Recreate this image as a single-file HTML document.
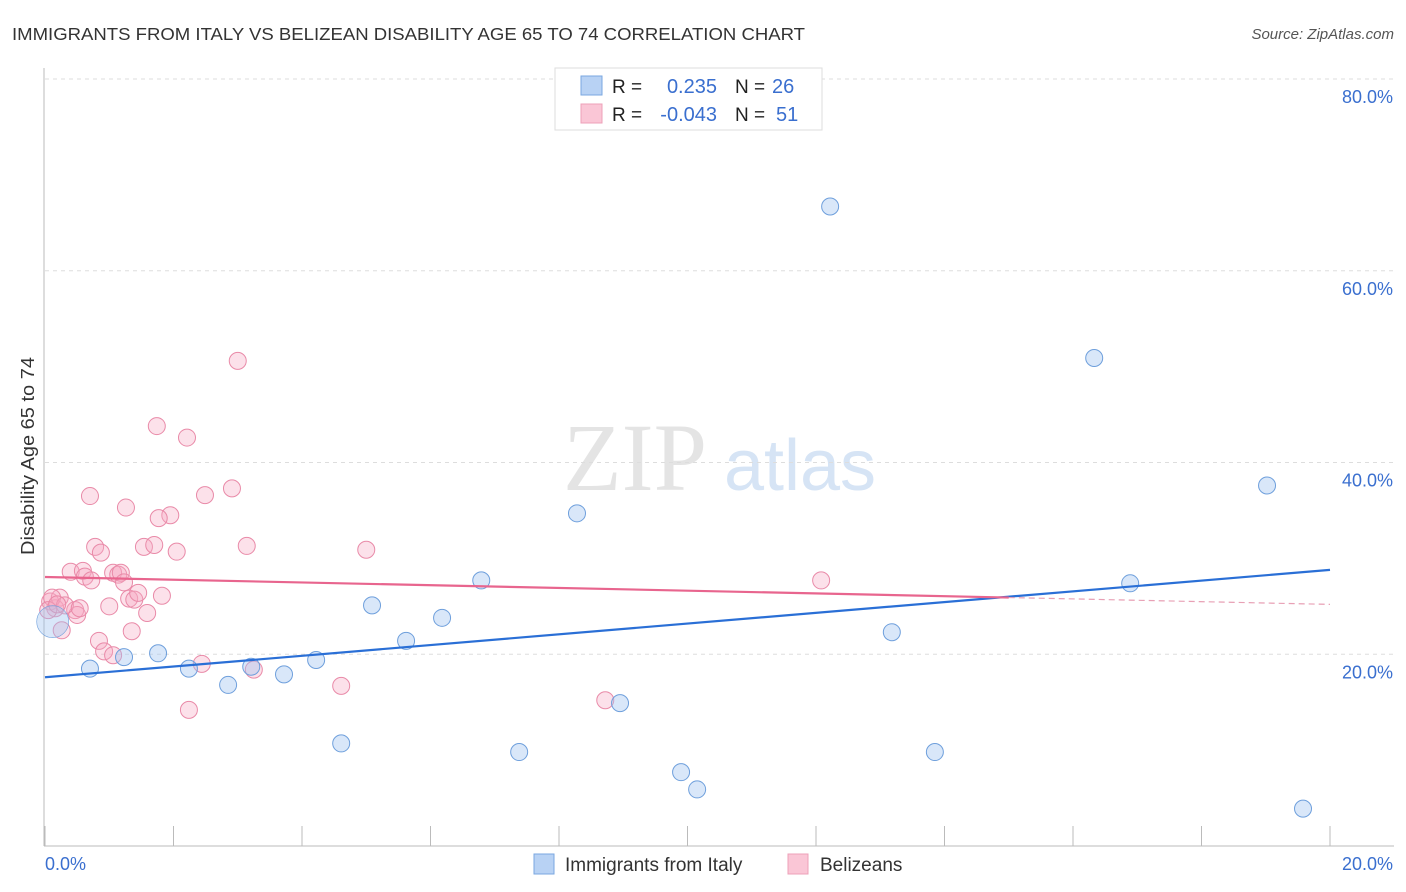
<!DOCTYPE html>
<html><head><meta charset="utf-8"><style>
body{margin:0;background:#fff;font-family:"Liberation Sans",sans-serif;}
#wrap{position:relative;width:1406px;height:892px;overflow:hidden}
</style></head><body>
<div id="wrap">
<svg id="svg" width="1406" height="892" xmlns="http://www.w3.org/2000/svg">
<text x="12" y="40" font-size="17.5" fill="#333" textLength="793" lengthAdjust="spacingAndGlyphs">IMMIGRANTS FROM ITALY VS BELIZEAN DISABILITY AGE 65 TO 74 CORRELATION CHART</text>
<text x="1394" y="39" font-size="15" fill="#555" font-style="italic" text-anchor="end">Source: ZipAtlas.com</text>
<text x="0" y="0" transform="translate(34,456) rotate(-90)" font-size="18" fill="#333" text-anchor="middle" textLength="198" lengthAdjust="spacingAndGlyphs">Disability Age 65 to 74</text>
<g><text x="635" y="490" font-size="96" font-family="Liberation Serif,serif" fill="#e4e4e4" text-anchor="middle">ZIP</text><text x="800" y="490" font-size="72" fill="#d6e4f5" text-anchor="middle">atlas</text></g>
<g id="grid"></g><g id="axes"></g><g id="pts"></g><g id="lines"></g>
<g>
<rect x="555" y="68" width="267" height="62" fill="#fff" stroke="#ddd"/>
<rect x="581" y="76" width="21" height="19" fill="#b8d2f4" stroke="#7aa7e0"/>
<rect x="581" y="104" width="21" height="19" fill="#fac6d6" stroke="#eda0b8"/>
<text x="612" y="93" font-size="19" fill="#222">R =</text><text x="717" y="93" font-size="20" fill="#3a6fcf" text-anchor="end">0.235</text>
<text x="735" y="93" font-size="19" fill="#222">N =</text><text x="772" y="93" font-size="20" fill="#3a6fcf">26</text>
<text x="612" y="121" font-size="19" fill="#222">R =</text><text x="717" y="121" font-size="20" fill="#3a6fcf" text-anchor="end">-0.043</text>
<text x="735" y="121" font-size="19" fill="#222">N =</text><text x="776" y="121" font-size="20" fill="#3a6fcf">51</text>
</g>
<g>
<rect x="534" y="854" width="20" height="20" fill="#b8d2f4" stroke="#7aa7e0"/>
<text x="565" y="871" font-size="19" fill="#333">Immigrants from Italy</text>
<rect x="788" y="854" width="20" height="20" fill="#fac6d6" stroke="#eda0b8"/>
<text x="820" y="871" font-size="19" fill="#333">Belizeans</text>
</g>
</svg>
</div>
<script>
const yTicks=[20,40,60,80];
const yTickLabels=["20.0%","40.0%","60.0%","80.0%"];
const xEndLabels=["0.0%","20.0%"];
const italyX=[12.22,16.33,19.02,8.28,6.79,16.89,5.09,6.18,13.18,5.62,1.76,0.70,1.23,2.24,3.21,4.22,2.85,3.72,8.95,4.61,7.38,13.85,9.90,10.15,19.58,0.12];
const italyY=[66.7,50.9,37.6,34.7,27.7,27.4,25.1,23.8,22.3,21.4,20.1,18.5,19.7,18.5,18.7,19.4,16.8,17.9,14.9,10.7,9.8,9.8,7.7,5.9,3.9,23.4];
const belizeX=[3.00,1.74,2.21,0.70,1.26,2.91,2.49,1.95,1.77,0.78,0.87,1.54,1.70,2.05,3.14,5.00,12.08,0.40,0.59,0.62,0.72,1.06,1.14,1.18,1.23,0.08,0.16,0.23,0.47,0.50,0.26,1.00,1.31,1.39,1.45,1.82,1.59,1.35,0.84,0.92,1.06,2.44,3.25,4.61,2.24,8.72,0.11,0.31,0.05,0.19,0.54];
const belizeY=[50.6,43.8,42.6,36.5,35.3,37.3,36.6,34.5,34.2,31.2,30.6,31.2,31.4,30.7,31.3,30.9,27.7,28.6,28.7,28.1,27.7,28.5,28.3,28.5,27.5,25.5,24.8,25.9,24.6,24.1,22.5,25.0,25.8,25.7,26.4,26.1,24.3,22.4,21.4,20.3,19.9,19.0,18.4,16.7,14.2,15.2,25.9,25.1,24.6,25.2,24.8];
const italyTrend=[17.6,28.8];
const belizeTrend=[28.06,25.2];
const belizeSolidEnd=15.0;
const X=v=>45+v/20*1285, Y=v=>846-v/80*767;
const NS="http://www.w3.org/2000/svg";
function mk(p,t,a){const e=document.createElementNS(NS,t);for(const k in a)e.setAttribute(k,a[k]);p.appendChild(e);return e;}
const grid=document.getElementById('grid'),axes=document.getElementById('axes'),pts=document.getElementById('pts'),lines=document.getElementById('lines');
yTicks.forEach((t,i)=>{
 const g=mk(grid,'line',{x1:45,x2:1394,y1:Y(t),y2:Y(t),stroke:'#ddd','stroke-dasharray':'4,4'});
 
 
 const l=mk(axes,'text',{x:1393,y:Y(t)+24,'font-size':18,fill:'#3a6fcf','text-anchor':'end'});l.textContent=yTickLabels[i];
 
 
});
const ax=mk(axes,'line',{x1:44,x2:44,y1:68,y2:846,stroke:'#bbb'});


const bx=mk(axes,'line',{x1:44,x2:1394,y1:846,y2:846,stroke:'#bbb'});


for(let i=0;i<=10;i++){const t=mk(axes,'line',{x1:X(i*2),x2:X(i*2),y1:826,y2:846,stroke:'#bbb'});
 
 }
const xl0=mk(axes,'text',{x:45,y:870,'font-size':18,fill:'#3a6fcf'});xl0.textContent=xEndLabels[0];


const xl1=mk(axes,'text',{x:1393,y:870,'font-size':18,fill:'#3a6fcf','text-anchor':'end'});xl1.textContent=xEndLabels[1];


belizeX.forEach((v,i)=>{const c=mk(pts,'circle',{cx:X(v),cy:Y(belizeY[i]),r:8.5,fill:'rgba(246,170,195,0.35)',stroke:'#e98aa8','stroke-width':1});
 
 });
italyX.forEach((v,i)=>{const c=mk(pts,'circle',{cx:X(v),cy:Y(italyY[i]),r:i==25?16:8.5,fill:'rgba(160,195,240,0.4)',stroke:'#6e9fdc','stroke-width':i==25?0.6:1});
 
 });
const bl=mk(lines,'line',{x1:X(0),y1:Y(italyTrend[0]),x2:X(20),y2:Y(italyTrend[1]),stroke:'#2a6fd6','stroke-width':2.2});


const pm=v=>belizeTrend[0]+(belizeTrend[1]-belizeTrend[0])*v/20;
const pl=mk(lines,'line',{x1:X(0),y1:Y(pm(0)),x2:X(belizeSolidEnd),y2:Y(pm(belizeSolidEnd)),stroke:'#e8658e','stroke-width':2.2});


const pd=mk(lines,'line',{x1:X(belizeSolidEnd),y1:Y(pm(belizeSolidEnd)),x2:X(20),y2:Y(pm(20)),stroke:'#e8a0b5','stroke-width':1.2,'stroke-dasharray':'6,4'});


</script>
</body></html>
